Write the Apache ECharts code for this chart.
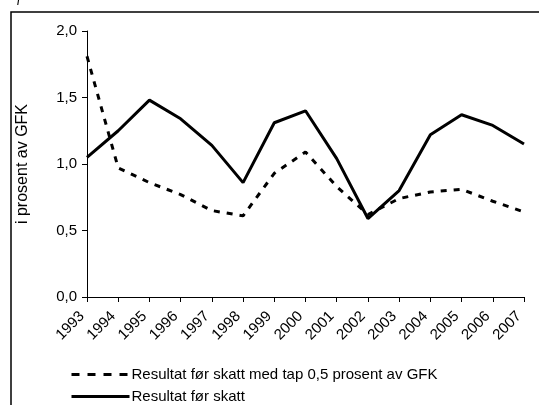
<!DOCTYPE html>
<html><head><meta charset="utf-8">
<script src="https://cdn.jsdelivr.net/npm/echarts@6/dist/echarts.min.js"></script>
<style>html,body{margin:0;padding:0;background:#fff}#c{width:539px;height:405px}</style>
</head><body><div id="c"></div>
<script>
var years = ['1993','1994','1995','1996','1997','1998','1999','2000','2001','2002','2003','2004','2005','2006','2007'];
var medTap = [1.81,0.97,0.86,0.77,0.65,0.61,0.93,1.09,0.83,0.62,0.74,0.79,0.81,0.72,0.64];
var resultat = [1.05,1.25,1.48,1.34,1.14,0.86,1.31,1.40,1.04,0.59,0.80,1.22,1.37,1.29,1.15];
var yTicks = ['0,0','0,5','1,0','1,5','2,0'];
var nameDash = 'Resultat før skatt med tap 0,5 prosent av GFK';
var nameSolid = 'Resultat før skatt';

var chart = echarts.init(document.getElementById('c'));
var font = 'Liberation Sans, Arial, sans-serif';
function leg(name, top, ltype) {
  return {
    orient: 'horizontal', left: 65, top: top, itemWidth: 58, itemHeight: 10,
    itemStyle: {opacity: 0},
    lineStyle: {type: ltype, width: 3, color: '#000'},
    textStyle: {fontSize: 15, color: '#000', fontFamily: font, padding: [0,0,0,-3]},
    data: [name]
  };
}
chart.setOption({
  animation: false,
  textStyle: {fontFamily: font},
  graphic: [
    {type: 'rect', shape: {x: 11, y: 12, width: 540, height: 400}, style: {fill: 'none', stroke: '#000', lineWidth: 1.5}},
    {type: 'text', left: 17, top: -9, style: {text: 'f', font: 'italic 14px Liberation Serif', fill: '#000'}}
  ],
  grid: {left: 87, right: 15, top: 31, bottom: 108, containLabel: false},
  legend: [leg(nameDash, 362, [8, 8]), leg(nameSolid, 384, 'solid')],
  xAxis: {
    type: 'category', data: years, boundaryGap: false,
    axisLine: {lineStyle: {color: '#000', width: 1}},
    axisTick: {show: true, length: 5, inside: false, lineStyle: {color: '#000'}},
    axisLabel: {rotate: 45, fontSize: 15, color: '#000', margin: 12, interval: 0, fontFamily: font, padding: [0, 7, 0, 0]},
    splitLine: {show: false}
  },
  yAxis: {
    type: 'value', min: 0, max: 2, interval: 0.5,
    name: 'i prosent av GFK', nameLocation: 'middle', nameGap: 56, nameRotate: 90,
    nameTextStyle: {fontSize: 16, color: '#000', fontFamily: font},
    axisLine: {show: true, lineStyle: {color: '#000', width: 1}},
    axisTick: {show: true, length: 5, lineStyle: {color: '#000'}},
    axisLabel: {fontSize: 15, color: '#000', margin: 10, fontFamily: font,
      formatter: function(v){ return yTicks[Math.round(v/0.5)]; }},
    splitLine: {show: false}
  },
  series: [
    {name: nameDash, type: 'line', data: medTap, symbol: 'none', smooth: false,
     lineStyle: {color: '#000', width: 3, type: [6, 7]}, itemStyle: {color: '#000'}},
    {name: nameSolid, type: 'line', data: resultat, symbol: 'none', smooth: false,
     lineStyle: {color: '#000', width: 3, type: 'solid'}, itemStyle: {color: '#000'}}
  ]
});
</script></body></html>
